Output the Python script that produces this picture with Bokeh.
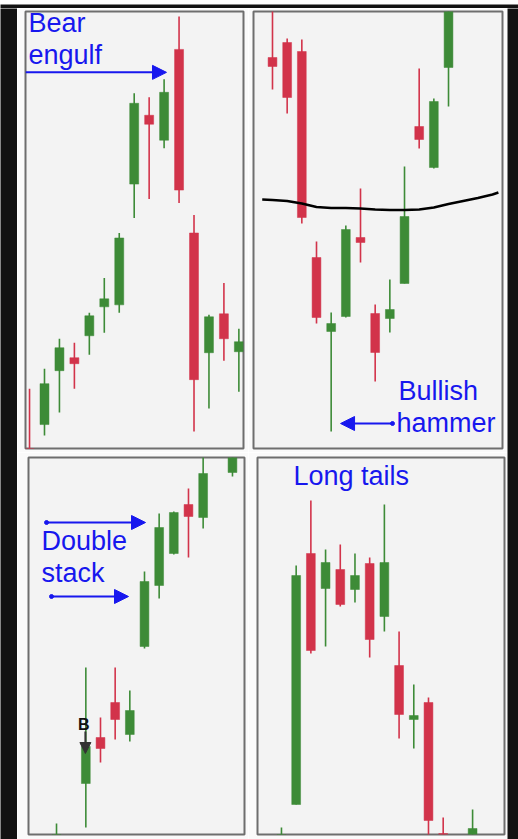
from bokeh.plotting import figure
from bokeh.layouts import column, row
from bokeh.models import ColumnDataSource, Range1d, Label, Arrow, NormalHead
from bokeh.embed import file_html
from bokeh.resources import INLINE

GREEN = "#3d8b37"
RED = "#d2334a"
BLUE = "#1717ee"
PANEL_BG = "#f3f3f3"
GAP_BG = "#fafafa"
OUTLINE = "#6e6e6e"
DARK = "#121212"
FONT = "Liberation Sans"

# ---------------- data (price units, arbitrary scale) ----------------
# Panel 1: "Bear engulf"
p1_idx = [0, 1, 2, 3, 4, 5, 6, 7, 8, 9, 10, 11, 12, 13, 14]
p1_open = [-3, 24, 78, 91, 113, 142, 144, 265, 334, 309, 400, 216, 96, 135, 97]
p1_high = [60, 80, 110, 106, 136, 171, 216, 356, 352, 370, 433, 234, 134, 166, 120]
p1_low = [-25, 13, 36, 60, 94, 116, 136, 231, 250, 301, 246, 17, 40, 88, 57]
p1_close = [-15, 65, 101, 85, 133, 150, 211, 346, 325, 357, 259, 69, 132, 110, 107]

# Panel 2: "Bullish hammer"
p2_idx = [0, 1, 2, 3, 4, 5, 6, 7, 8, 9, 10, 11, 12]
p2_open = [391, 406, 397, 191, 117, 132, 211, 135, 130, 165, 322, 281, 381]
p2_high = [445, 410, 409, 207, 136, 223, 260, 144, 169, 282, 380, 350, 460]
p2_low = [359, 335, 225, 125, 17, 131, 186, 67, 116, 165, 300, 280, 342]
p2_close = [382, 351, 231, 131, 125, 219, 206, 96, 139, 232, 309, 347, 450]
p2_ma_x = [-0.7, 0, 1, 2, 3, 4, 5, 6, 7, 8, 9, 10, 11, 12, 13, 14, 15, 15.4]
p2_ma_y = [249, 248.5, 247.5, 245, 241.5, 240.5, 240.5, 240, 239, 238.5, 238.5,
           239, 241, 244.5, 247.5, 250.5, 254, 256]

# Panel 3: "Double stack"
p3_idx = [0, 2, 3, 4, 5, 6, 7, 8, 9, 10, 12]
p3_open = [-15, 51, 97, 132, 100, 188, 249, 281, 330, 317, 362]
p3_high = [11, 167, 117, 167, 144, 263, 321, 323, 346, 390, 400]
p3_low = [-20, 7, 72, 95, 93, 186, 236, 280, 277, 306, 358]
p3_close = [-3, 88, 86, 115, 124, 253, 307, 322, 318, 361, 395]

# Panel 4: "Long tails"
p4_idx = [0, 1, 2, 3, 4, 5, 6, 7, 8, 9, 10, 11, 13]
p4_open = [-15, 30, 281, 246, 265, 245, 271, 218, 169, 115, 132, 1, -10]
p4_high = [7, 269, 334, 285, 290, 281, 277, 330, 203, 150, 137, 17, 25]
p4_low = [-20, 30, 181, 188, 228, 232, 177, 203, 96, 86, -10, -15, -15]
p4_close = [-3, 259, 184, 272, 230, 259, 195, 272, 120, 119, 14, -10, 6]

LABELS = {
    "p1": ["Bear", "engulf"],
    "p2": ["Bullish", "hammer"],
    "p3": ["Double", "stack"],
    "p4": ["Long tails"],
    "marker": "B",
}


def make_panel(width, height, left, right, top, bottom, xr, yr):
    p = figure(width=width, height=height, x_range=Range1d(*xr), y_range=Range1d(*yr),
               x_axis_location=None, y_axis_location=None, toolbar_location=None,
               output_backend="svg", title=None,
               min_border_left=left, min_border_right=right,
               min_border_top=top, min_border_bottom=bottom)
    p.xgrid.visible = False
    p.ygrid.visible = False
    p.background_fill_color = PANEL_BG
    p.border_fill_color = GAP_BG
    p.outline_line_color = OUTLINE
    p.outline_line_width = 2
    return p


def make_strip(width, height):
    s = figure(width=width, height=height, x_axis_location=None, y_axis_location=None,
               toolbar_location=None, output_backend="svg", title=None, min_border=0)
    s.xgrid.visible = False
    s.ygrid.visible = False
    s.background_fill_color = DARK
    s.border_fill_color = DARK
    s.outline_line_color = None
    return s


def draw_candles(p, idx, o, h, l, c):
    colors = [GREEN if cc >= oo else RED for oo, cc in zip(o, c)]
    src = ColumnDataSource(dict(
        x=idx, h=h, l=l,
        top=[max(a, b) for a, b in zip(o, c)],
        bottom=[min(a, b) for a, b in zip(o, c)],
        color=colors))
    p.segment(x0="x", y0="h", x1="x", y1="l", line_color="color", line_width=1.6, source=src)
    p.vbar(x="x", width=0.6, top="top", bottom="bottom", fill_color="color",
           line_color="color", line_width=0.5, source=src)


def add_label(p, x, y, text, size=27, color=BLUE, align="left", style="normal"):
    # the renderer sets alphabetic text a little low; lift it by ~0.36 em
    p.add_layout(Label(x=x, y=y, y_offset=round(0.37 * size), text=text, text_font=FONT,
                       text_font_size=f"{size}px", text_color=color, text_align=align,
                       text_baseline="alphabetic", text_font_style=style))


def add_arrow(p, x0, y0, x1, y1, color=BLUE, size=14, width=2):
    p.add_layout(Arrow(end=NormalHead(size=size, fill_color=color, line_color=color, line_width=1),
                       x_start=x0, y_start=y0, x_end=x1, y_end=y1,
                       line_color=color, line_width=width))


# ---------------- panel 1 ----------------
p1 = make_panel(231, 444, 8, 5, 2, 4, (-0.27, 14.31), (0, 438))
draw_candles(p1, p1_idx, p1_open, p1_high, p1_low, p1_close)
add_label(p1, -0.07, 416, LABELS["p1"][0])
add_label(p1, -0.07, 384.5, LABELS["p1"][1])
add_arrow(p1, -0.27, 377, 9.16, 377)

# ---------------- panel 2 ----------------
p2 = make_panel(259, 444, 5, 5, 3, 4, (-1.295, 15.68), (0, 437))
draw_candles(p2, p2_idx, p2_open, p2_high, p2_low, p2_close)
p2.line(p2_ma_x, p2_ma_y, line_color="black", line_width=2.5)
add_label(p2, 8.59, 48, LABELS["p2"][0])
add_label(p2, 8.45, 16, LABELS["p2"][1])
add_arrow(p2, 8.18, 25, 4.64, 25)
p2.scatter([8.18], [25], size=4, color=BLUE)

# ---------------- panel 3 ----------------
p3 = make_panel(231, 387, 11, 4, 5, 5, (-1.91, 12.82), (0, 377))
draw_candles(p3, p3_idx, p3_open, p3_high, p3_low, p3_close)
add_label(p3, -1.02, 284, LABELS["p3"][0])
add_label(p3, -1.02, 252, LABELS["p3"][1])
add_arrow(p3, -0.68, 312, 6.07, 312)
add_arrow(p3, -0.34, 238, 4.91, 238)
p3.scatter([-0.68, -0.34], [312, 238], size=4, color=BLUE)
add_label(p3, 1.86, 104, LABELS["marker"], size=16, color="#111111", align="center", style="bold")
add_arrow(p3, 1.97, 103, 1.97, 81, color="#333333", size=11, width=2)

# ---------------- panel 4 ----------------
p4 = make_panel(259, 387, 9, 3, 5, 5, (-1.63, 15.17), (0, 377))
draw_candles(p4, p4_idx, p4_open, p4_high, p4_low, p4_close)
add_label(p4, 0.82, 349, LABELS["p4"][0])

grid = column(row(p1, p2), row(p3, p4))
layout = column(make_strip(518, 8),
                row(make_strip(17, 831), grid, make_strip(11, 831)))
open("out.html", "w").write(file_html(layout, INLINE))
